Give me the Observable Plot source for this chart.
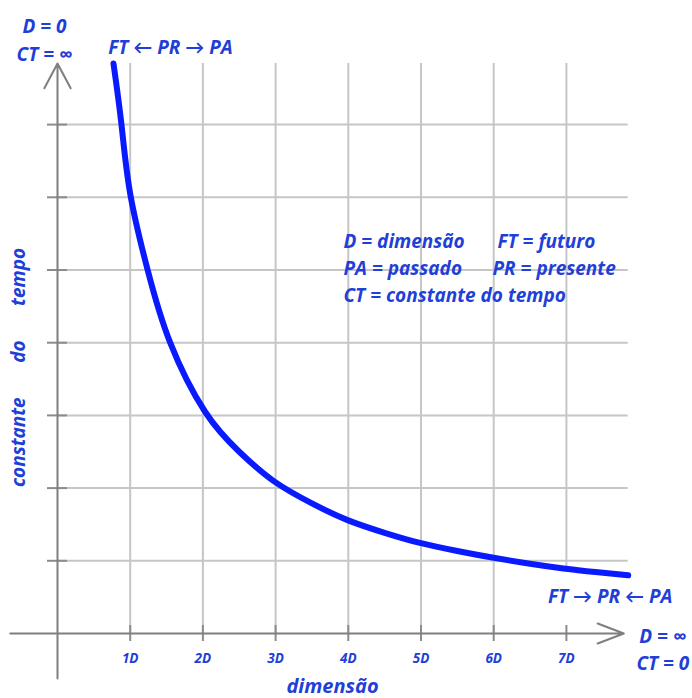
<!DOCTYPE html>
<html>
<head>
<meta charset="utf-8">
<script src="https://cdn.jsdelivr.net/npm/d3@7"></script>
<script src="https://cdn.jsdelivr.net/npm/@observablehq/plot@0.6"></script>
<style>
  html, body { margin: 0; padding: 0; background: #ffffff; }
  svg { display: block; }
</style>
</head>
<body>
<div id="chart"></div>
<script>
// ---- data ----
const xTicks = [1, 2, 3, 4, 5, 6, 7];
const xTickLabels = ["1D", "2D", "3D", "4D", "5D", "6D", "7D"];
const yTicks = [1, 2, 3, 4, 5, 6, 7];
const curveX = [0.77, 0.88, 1.0, 1.24, 1.55, 2.03, 2.5, 2.97, 3.5, 3.99, 4.5, 4.97, 5.5, 5.98, 6.5, 6.96, 7.4, 7.85];
const curveY = [7.84, 7.0, 6.05, 5.0, 4.0, 3.05, 2.5, 2.1, 1.79, 1.56, 1.385, 1.25, 1.135, 1.045, 0.96, 0.895, 0.845, 0.80];
const legendCol1 = ["D = dimensão", "PA = passado", "CT = constante do tempo"];
const legendCol2 = ["FT = futuro", "PR = presente"];
const topLabel = "D = 0\nCT = ∞";
const rightLabel = "D = ∞\nCT = 0";
const startLabel = "FT ← PR → PA";
const endLabel = "FT → PR ← PA";
const xLabel = "dimensão";
const yLabel = "constante\u00a0\u00a0\u00a0\u00a0\u00a0\u00a0\u00a0do\u00a0\u00a0\u00a0\u00a0\u00a0\u00a0\u00a0tempo";

// ---- layout (chart units / pixels) ----
const axisTop = 7.84, axisRight = 7.79, axisXStart = -0.65, axisYStart = -0.62, gridRight = 7.85;
const W = 692, H = 698, unit = 72.7, ox = 57, oy = 633;
// legend placement: [left px, baseline px] for col1 rows then col2 rows
const legendPlacement1 = [[343, 247], [343, 274], [343, 301]];
const legendPlacement2 = [[497, 247], [492, 274]];

const curve = curveX.map((x, i) => ({x, y: curveY[i]}));
const ticks = xTicks.map((x, i) => ({x, label: xTickLabels[i]}));
const end7 = curve.reduce((a, b) => Math.abs(b.x - 7) < Math.abs(a.x - 7) ? b : a);

const blue = "#1f3fd8";
const gridColor = "#c6c6c6";
const axisColor = "#7f7f7f";
const font = {fontFamily: "'Open Sans', Lato, sans-serif", fontStyle: "italic", fontWeight: "bold", fill: blue};

const legendMarks = [
  ...legendCol1.map((t, i) => Plot.text([t], {frameAnchor: "top-left", text: d => d, dx: legendPlacement1[i][0], dy: legendPlacement1[i][1], lineAnchor: "bottom", textAnchor: "start", fontSize: 19, ...font})),
  ...legendCol2.map((t, i) => Plot.text([t], {frameAnchor: "top-left", text: d => d, dx: legendPlacement2[i][0], dy: legendPlacement2[i][1], lineAnchor: "bottom", textAnchor: "start", fontSize: 19, ...font}))
];

const chart = Plot.plot({
  width: W,
  height: H,
  margin: 0,
  x: {domain: [-ox / unit, (W - ox) / unit], axis: null},
  y: {domain: [-(H - oy) / unit, oy / unit], axis: null},
  style: {background: "#ffffff", overflow: "visible"},
  marks: [
    // vertical grid
    Plot.ruleX(xTicks.filter(d => d < 7), {x: d => d, y1: 0, y2: axisTop, stroke: gridColor, strokeWidth: 2}),
    Plot.ruleX([end7], {x: 7, y1: "y", y2: axisTop, stroke: gridColor, strokeWidth: 2}),
    // horizontal grid
    Plot.ruleY(yTicks, {y: d => d, x1: 0, x2: gridRight, stroke: gridColor, strokeWidth: 2}),
    // y ticks
    Plot.ruleY(yTicks, {y: d => d, x1: 0, x2: 0, insetLeft: -10, insetRight: -10, stroke: "#8c8c8c", strokeWidth: 2}),
    // x ticks
    Plot.ruleX(xTicks, {x: d => d, y1: 0, y2: 0, insetTop: -8, insetBottom: -8, stroke: "#8c8c8c", strokeWidth: 2}),
    // axes with open arrow heads
    Plot.arrow([{}], {x1: axisXStart, y1: 0, x2: axisRight, y2: 0, stroke: axisColor, strokeWidth: 2, headLength: 21, headAngle: 42}),
    Plot.arrow([{}], {x1: 0, y1: axisYStart, x2: 0, y2: axisTop, stroke: axisColor, strokeWidth: 2, headLength: 21, headAngle: 56}),
    // curve
    Plot.line(curve, {x: "x", y: "y", stroke: "#0a1aff", strokeWidth: 6, curve: "natural", strokeLinecap: "round"}),
    // tick labels
    Plot.text(ticks, {x: "x", y: 0, text: "label", dy: 25, fontSize: 13.5, ...font}),
    // corner labels
    Plot.text([topLabel], {x: 0, y: axisTop, text: d => d, dx: -13, dy: -3, lineAnchor: "bottom", lineHeight: 1.47, fontSize: 19, ...font}),
    Plot.text([rightLabel], {x: axisRight, y: 0, text: d => d, dx: 39, dy: 36, lineAnchor: "bottom", lineHeight: 1.4, fontSize: 19, ...font}),
    Plot.text([curve[0]], {x: "x", y: "y", text: () => startLabel, dx: 57, dy: -10, lineAnchor: "bottom", fontSize: 19, ...font}),
    Plot.text([curve[curve.length - 1]], {x: "x", y: "y", text: () => endLabel, dx: -18, dy: 28, lineAnchor: "bottom", fontSize: 19, ...font}),
    // legend
    ...legendMarks,
    // axis titles
    Plot.text([xLabel], {frameAnchor: "bottom", text: d => d, dx: -14, dy: -6, lineAnchor: "bottom", textAnchor: "middle", fontSize: 20, ...font}),
    Plot.text([yLabel], {frameAnchor: "left", text: d => d, dx: 18, dy: 18, rotate: -90, textAnchor: "middle", lineAnchor: "middle", fontSize: 19, ...font})
  ]
});
document.getElementById("chart").appendChild(chart);
</script>
</body>
</html>
